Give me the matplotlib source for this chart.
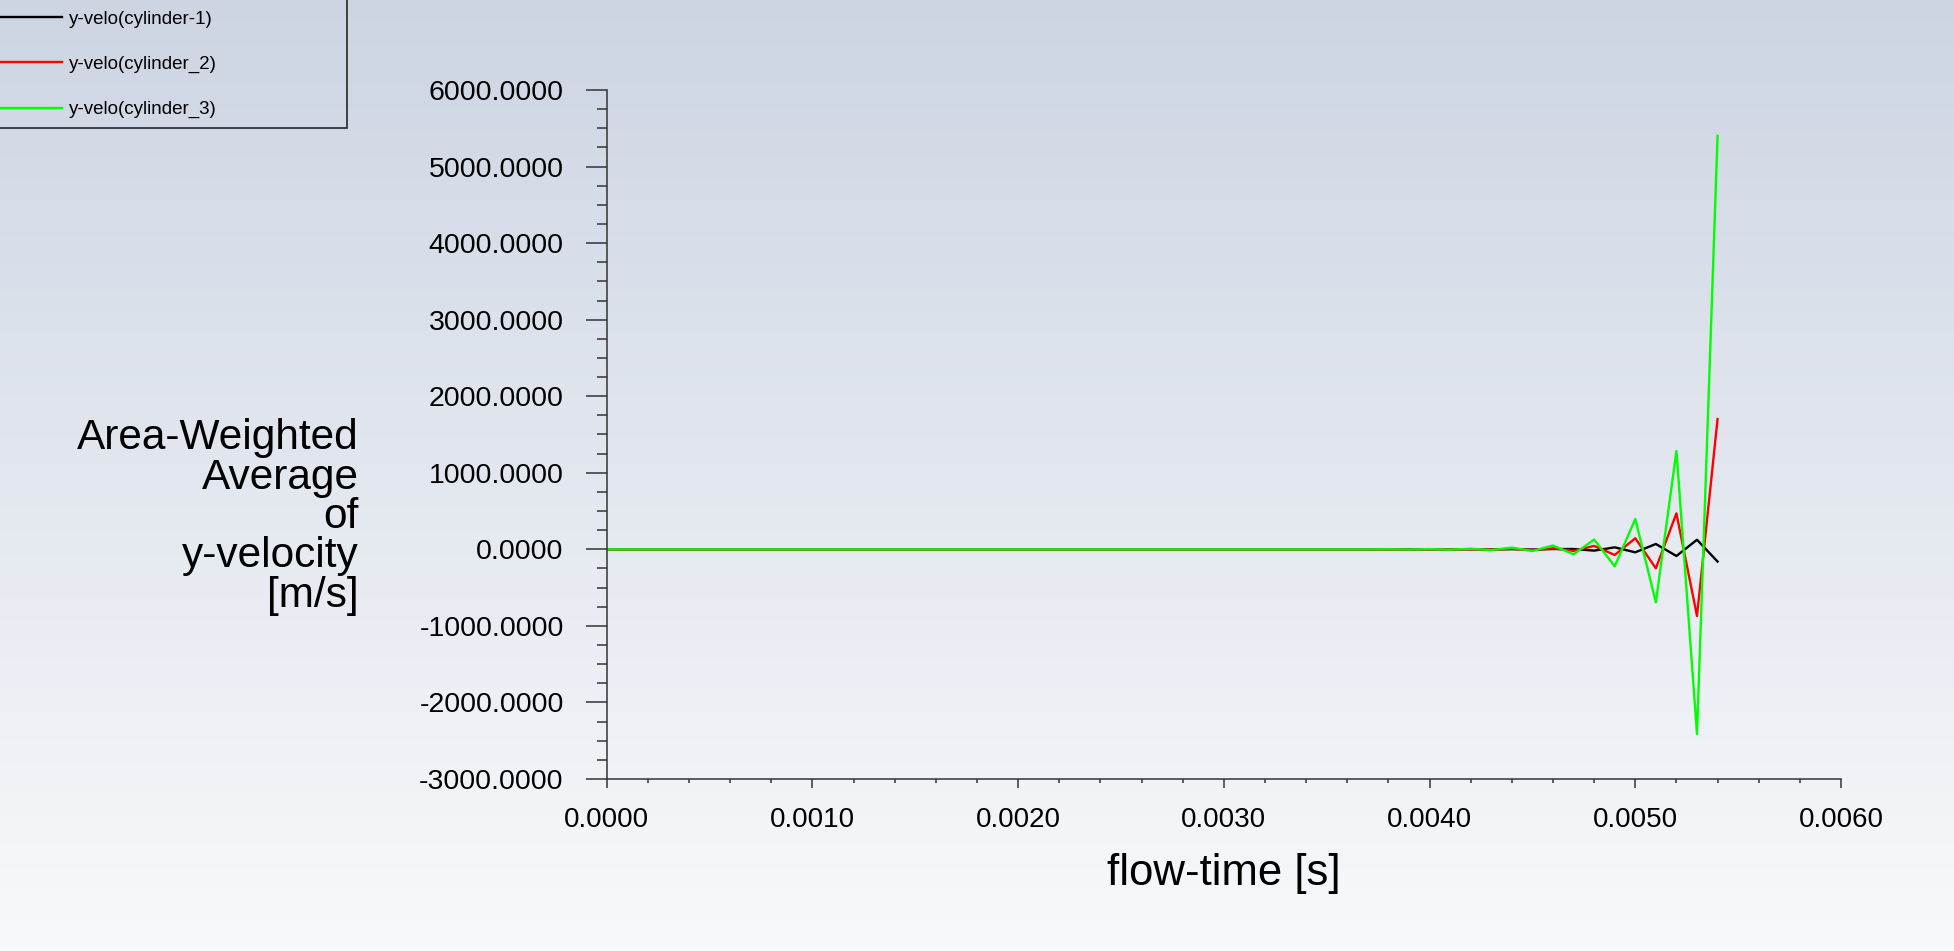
import numpy as np
import matplotlib
matplotlib.use("Agg")
import matplotlib.pyplot as plt
from matplotlib.patches import Rectangle
from matplotlib.ticker import MultipleLocator, FormatStrFormatter

plt.rcParams['font.family'] = ['Liberation Sans', 'DejaVu Sans']

# flow-time samples, one every 1e-4 s
flow_time = [i * 0.0001 for i in range(55)]

# y-velocity [m/s]; flat zero until ~0.0038 s, then the oscillation grows
cyl1 = [0.0] * 42 + [1, -2, 3, -3, 4, 4, -17, 26, -39, 70, -87, 125, -160]
cyl2 = [0.0] * 40 + [1, -1, 2, -4, 6, -9, 13, -20, 45, -74, 145, -248, 470, -871, 1702]
cyl3 = [0.0] * 38 + [1, -2, 3, -4, 8, -10, 22, -22, 50, -65, 128, -222, 396, -692, 1285, -2412, 5402]

labels = ['y-velo(cylinder-1)', 'y-velo(cylinder_2)', 'y-velo(cylinder_3)']
colors = ['#000000', '#ff0000', '#00ff00']

W, H = 1954, 951
fig = plt.figure(figsize=(W / 100, H / 100), dpi=100)

# gradient background
bg = fig.add_axes([0, 0, 1, 1], zorder=-10)
top = np.array([205, 213, 227]) / 255
bot = np.array([248, 249, 251]) / 255
g = np.linspace(0, 1, 256)[:, None]
grad = top[None, :] * (1 - g) + bot[None, :] * g
bg.imshow(grad[:, None, :], aspect='auto', extent=[0, 1, 0, 1])
bg.axis('off')

ax = fig.add_axes([606.7 / W, 1 - 779 / H, (1841 - 606.7) / W, (779 - 90) / H])
ax.patch.set_alpha(0)

lines = []
for ys, c, lab in zip([cyl1, cyl2, cyl3], colors, labels):
    ln, = ax.plot(flow_time, ys, color=c, lw=1.7, label=lab)
    lines.append(ln)

ax.set_xlim(0, 0.006)
ax.set_ylim(-3000, 6000)
ax.xaxis.set_major_locator(MultipleLocator(0.001))
ax.xaxis.set_minor_locator(MultipleLocator(0.0002))
ax.yaxis.set_major_locator(MultipleLocator(1000))
ax.yaxis.set_minor_locator(MultipleLocator(250))
ax.xaxis.set_major_formatter(FormatStrFormatter('%.4f'))
ax.yaxis.set_major_formatter(FormatStrFormatter('%.4f'))

for s in ['top', 'right']:
    ax.spines[s].set_visible(False)
for s in ['left', 'bottom']:
    ax.spines[s].set_color('#333333')
    ax.spines[s].set_linewidth(1.1)

ax.tick_params(axis='y', which='major', direction='out', length=15, width=1.1,
               color='#333333', labelsize=20.5, pad=16)
ax.tick_params(axis='y', which='minor', direction='out', length=7.2, width=1.1, color='#333333')
ax.tick_params(axis='x', which='major', direction='out', length=6.5, width=1.1,
               color='#333333', labelsize=20, pad=14)
ax.tick_params(axis='x', which='minor', direction='out', length=3, width=1.1, color='#333333')

ax.set_xlabel('flow-time [s]', fontsize=31.5, labelpad=14)

fig.text(359 / W, 1 - 517 / H, 'Area-Weighted\nAverage\nof\ny-velocity\n[m/s]',
         ha='right', va='center', multialignment='right', fontsize=30.5, linespacing=0.98)

# legend box in the top-left corner
fig.patches.append(Rectangle((-0.01, 1 - 128 / H), 347 / W + 0.01, 128 / H + 0.01,
                             transform=fig.transFigure, fill=False,
                             edgecolor='#333333', lw=1.3))
leg = fig.legend(handles=lines, loc='upper left', bbox_to_anchor=(0, 1 - 10.5 / H),
                 frameon=False, fontsize=13.5, handlelength=3.3, handletextpad=0.37,
                 labelspacing=1.5, borderpad=0, borderaxespad=0)

fig.savefig('out.png', dpi=100)
